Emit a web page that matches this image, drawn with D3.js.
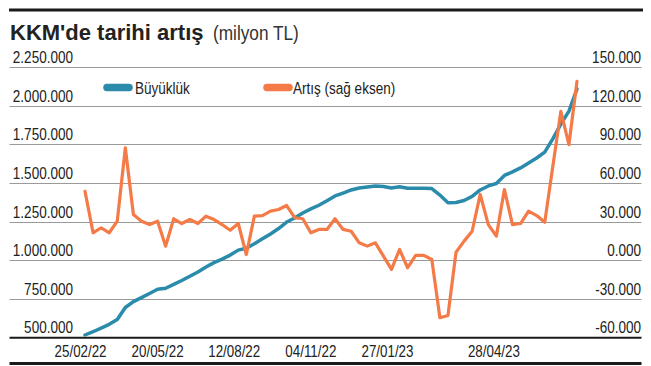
<!DOCTYPE html>
<html><head><meta charset="utf-8">
<script src="https://cdn.jsdelivr.net/npm/d3@7"></script>
<style>body{margin:0;background:#fff}</style>
</head><body>
<svg id="c" width="651" height="366"></svg>
<script>
// KKM size (million TL), weekly
const sizeValues = [
  514900, 536000, 560000, 584000, 615000, 693000, 731000, 757000, 784000, 811000,
  818000, 843000, 868000, 896000, 923000, 956000, 984000, 1007000, 1033000, 1065000,
  1077000, 1106000, 1138000, 1170000, 1205000, 1247000, 1273000, 1306000, 1332000, 1356000,
  1385000, 1416000, 1435000, 1455000, 1468000, 1474000, 1481000, 1477000, 1468000, 1476000,
  1466000, 1466000, 1466000, 1464000, 1422000, 1372000, 1374000, 1387000, 1413000, 1455000,
  1481000, 1497000, 1549000, 1572000, 1598000, 1630000, 1662000, 1700000, 1786000, 1882000,
  1966000, 2110000
];
// Weekly increase (million TL), right axis
const increaseValues = [
  53600, 21300, 25200, 21300, 30300, 87400, 35500, 30300, 27700, 30300,
  10900, 32200, 28500, 31600, 28500, 34200, 31600, 27700, 23300, 28500,
  4400, 34200, 34700, 38100, 39400, 42500, 33000, 32200, 21300, 23900,
  23900, 32200, 23900, 22500, 13500, 10900, 13500, 3100, -7200, 8300,
  -5900, 3700, 3700, 500, -44800, -43000, 6200, 14800, 22500, 51100,
  27700, 18700, 54900, 27700, 28500, 38100, 34700, 29500, 72800, 115800,
  89900, 139100
];
const xTickLabels = ["25/02/22", "20/05/22", "12/08/22", "04/11/22", "27/01/23", "28/04/23"];
const xTickIndex  = [-0.55, 9, 18.5, 28, 37.5, 50.7];
const leftTicks  = [500000, 750000, 1000000, 1250000, 1500000, 1750000, 2000000, 2250000];
const rightTicks = [-60000, -30000, 0, 30000, 60000, 90000, 120000, 150000];
const seriesNames = ["Büyüklük", "Artış (sağ eksen)"];
const titleMain = "KKM'de tarihi artış";
const titleUnit = "(milyon TL)";

const BLUE = "#2a8bab", ORANGE = "#f47a47";
const FONT = "'Liberation Sans', Arial, sans-serif";
const SX = 0.82; // condensed look

const svg = d3.select("#c");
const plotTop = 67.3, plotBottom = 337.3, gridLeft = 9.5, gridRight = 641.5;
const x = d3.scaleLinear().domain([0, sizeValues.length - 1]).range([85, 577]);
const yL = d3.scaleLinear().domain([500000, 2250000]).range([plotBottom, plotTop]);
const yR = d3.scaleLinear().domain([-60000, 150000]).range([plotBottom, plotTop]);

const loc = d3.formatLocale({decimal: ",", thousands: ".", grouping: [3], currency: ["", ""], minus: "-"});
const fmt = loc.format(",.0f");
const fmtR = v => v === 0 ? "0.000" : fmt(v);

function label(sel, xf, yf, size, anchor) {
  return sel.attr("transform", (d, i) => `translate(${xf(d, i)},${yf(d, i)}) scale(${SX},1)`)
    .attr("text-anchor", anchor || "start")
    .attr("font-family", FONT).attr("font-size", size).attr("fill", "#222");
}

// top rule
svg.append("line").attr("x1", 9).attr("x2", 643).attr("y1", 10).attr("y2", 10)
  .attr("stroke", "#1a1a1a").attr("stroke-width", 3);

// title
svg.append("text").attr("x", 10).attr("y", 40).text(titleMain)
  .attr("font-family", FONT).attr("font-weight", "bold").attr("font-size", 22).attr("fill", "#222");
label(svg.append("text").datum(0).text(titleUnit), () => 213, () => 40, 21).attr("fill", "#333");

// gridlines
svg.append("g").selectAll("line").data(leftTicks.slice(1)).join("line")
  .attr("x1", gridLeft).attr("x2", gridRight)
  .attr("y1", d => Math.round(yL(d)) + 0.5).attr("y2", d => Math.round(yL(d)) + 0.5)
  .attr("stroke", "#9a9a9a").attr("stroke-width", 1);

// left labels (right-aligned)
label(svg.append("g").selectAll("text").data(leftTicks).join("text").text(d => fmt(d)),
  () => 73, d => yL(d) - 4, 16.5, "end");
// right labels
label(svg.append("g").selectAll("text").data(rightTicks).join("text").text(d => fmtR(d)),
  () => 641, d => yR(d) - 4, 16.5, "end");

// baseline
svg.append("line").attr("x1", gridLeft).attr("x2", gridRight)
  .attr("y1", plotBottom + 0.5).attr("y2", plotBottom + 0.5)
  .attr("stroke", "#1a1a1a").attr("stroke-width", 2);
// bottom rule
svg.append("line").attr("x1", gridLeft).attr("x2", gridRight)
  .attr("y1", 363.5).attr("y2", 363.5)
  .attr("stroke", "#1a1a1a").attr("stroke-width", 3);

// x labels
label(svg.append("g").selectAll("text").data(xTickLabels).join("text").text(d => d),
  (d, i) => x(xTickIndex[i]), () => 357, 16.3, "middle");

// lines
const lineL = d3.line().x((d, i) => x(i)).y(d => yL(d));
const lineR = d3.line().x((d, i) => x(i)).y(d => yR(d));
svg.append("path").datum(sizeValues).attr("d", lineL)
  .attr("fill", "none").attr("stroke", BLUE).attr("stroke-width", 3.5)
  .attr("stroke-linejoin", "round").attr("stroke-linecap", "round");
svg.append("path").datum(increaseValues).attr("d", lineR)
  .attr("fill", "none").attr("stroke", ORANGE).attr("stroke-width", 3.2)
  .attr("stroke-linejoin", "round").attr("stroke-linecap", "round");

// legend
const legend = [
  {name: seriesNames[0], color: BLUE, x0: 107, x1: 129, tx: 135},
  {name: seriesNames[1], color: ORANGE, x0: 267, x1: 289, tx: 293}
];
const lg = svg.append("g");
legend.forEach(l => {
  lg.append("line").attr("x1", l.x0).attr("x2", l.x1).attr("y1", 87.5).attr("y2", 87.5)
    .attr("stroke", l.color).attr("stroke-width", 7.5).attr("stroke-linecap", "round");
  label(lg.append("text").datum(l).text(l.name), d => d.tx, () => 93.5, 16.5);
});
</script>
</body></html>
